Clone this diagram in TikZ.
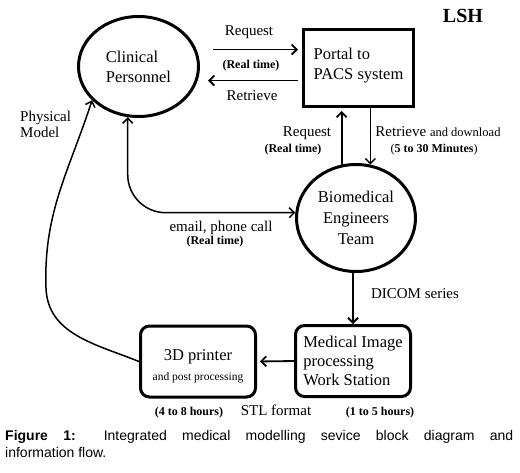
\documentclass[tikz,border=0pt]{standalone}
\usepackage{fontspec}
\setmainfont{Liberation Serif}
\newfontfamily\capfont{Liberation Sans}
\usetikzlibrary{shapes.geometric,arrows.meta}

\begin{document}
\begin{tikzpicture}[x=1pt,y=-1pt,
	>={Straight Barb[length=5pt,width=10pt]},
	every node/.style={inner sep=0pt},
	bigtxt/.style={font=\fontsize{16.5}{20}\selectfont},
	oval/.style={ellipse,draw,line width=3pt,bigtxt},
	block/.style={rectangle,draw,line width=3pt,bigtxt},
	rblock/.style={block,rounded corners=9pt},
	lbl/.style={anchor=base,font=\fontsize{15}{16}\selectfont},
	note/.style={anchor=base,font=\fontsize{12}{14}\selectfont\bfseries},
	flow/.style={->,line width=1.8pt},
	thinflow/.style={->,line width=1.4pt}]

	\useasboundingbox (0,0) rectangle (520,472);

	% blocks
	\node[oval,minimum width=120pt,minimum height=100pt,align=left] (clin) at (138.5,66.5) {Clinical\\Personnel};
	\node[block,minimum width=110pt,minimum height=77pt,align=left] (portal) at (358.5,68) {Portal to\\PACS system\rule[-9pt]{0pt}{0pt}};
	\node[oval,minimum width=119pt,minimum height=107pt,align=center,font=\fontsize{16.5}{21}\selectfont] (bme) at (356,218) {Biomedical\\Engineers\\Team};
	\node[rblock,minimum width=115pt,minimum height=71pt,align=left,font=\fontsize{16.5}{19}\selectfont] (mips) at (353,361) {Medical Image\\processing\\Work Station};
	\node[rblock,minimum width=115pt,minimum height=71pt,align=center] (printer) at (198,361.5) {\rule{0pt}{21pt}3D printer\\{\fontsize{11.5}{14}\selectfont and post processing}};

	\node[anchor=base,font=\fontsize{20}{24}\selectfont\bfseries] (lsh) at (463,22) {LSH};

	% clinical <-> portal
	\coordinate (reqA) at ([yshift=17pt]clin.east);
	\coordinate (retA) at ([yshift=-14pt]clin.east);
	\draw[flow,shorten <=13pt,shorten >=4pt] (reqA) -- (reqA -| portal.west);
	\draw[flow,shorten <=4pt,shorten >=8pt] (retA -| portal.west) -- (retA);
	\node[lbl] (req) at (249,35) {Request};
	\node[note] (rtA) at (251,68) {(Real time)};
	\node[lbl] (ret) at (252,100) {Retrieve};

	% portal <-> engineers
	\draw[flow,shorten >=3pt] (bme.105) -- (bme.105 |- portal.south);
	\draw[thinflow] (bme.75 |- portal.south) -- (bme.75);
	\node[lbl] (reqB) at (307,136) {Request};
	\node[note] (rtB) at (293,152) {(Real time)};
	\node[lbl] (retdl) at (438,136) {Retrieve {\fontsize{12.5}{14}\selectfont and download}};
	\node[note] (mins) at (434,152) {{\mdseries(}5 to 30 Minutes{\mdseries)}};

	% clinical <-> engineers
	\draw[<->,line width=1.5pt,rounded corners=38pt] (clin.258) |- (bme.175);
	\node[lbl] (mail) at (221,231) {email, phone call};
	\node[note] (rtC) at (215,244) {(Real time)};

	% engineers -> workstation -> printer
	\draw[flow] (mips.north |- bme.south) -- (mips.north);
	\node[lbl] (dicom) at (415,298) {DICOM series};
	\draw[flow,shorten >=3pt] (mips.west) -- (printer.east);

	% printer -> clinical
	\draw[->,line width=1.5pt] (printer.west) to[out=158,in=-88] (46,288) to[out=92,in=-108] (clin.216);
	\node[lbl,align=left,anchor=base west] (phys) at (20,137) {Physical\\Model};

	% times
	\node[note] (tPrint) at (189,415) {(4 to 8 hours)};
	\node[lbl] (stl) at (276,415) {STL format};
	\node[note] (tProc) at (380,415) {(1 to 5 hours)};

	% caption
	\node[anchor=north west,text width=508pt,align=justify,font=\capfont\fontsize{14}{17}\selectfont] (cap) at (5,430)
		{\textbf{Figure 1:} Integrated medical modelling sevice block diagram and\linebreak information flow.};
\end{tikzpicture}
\end{document}
